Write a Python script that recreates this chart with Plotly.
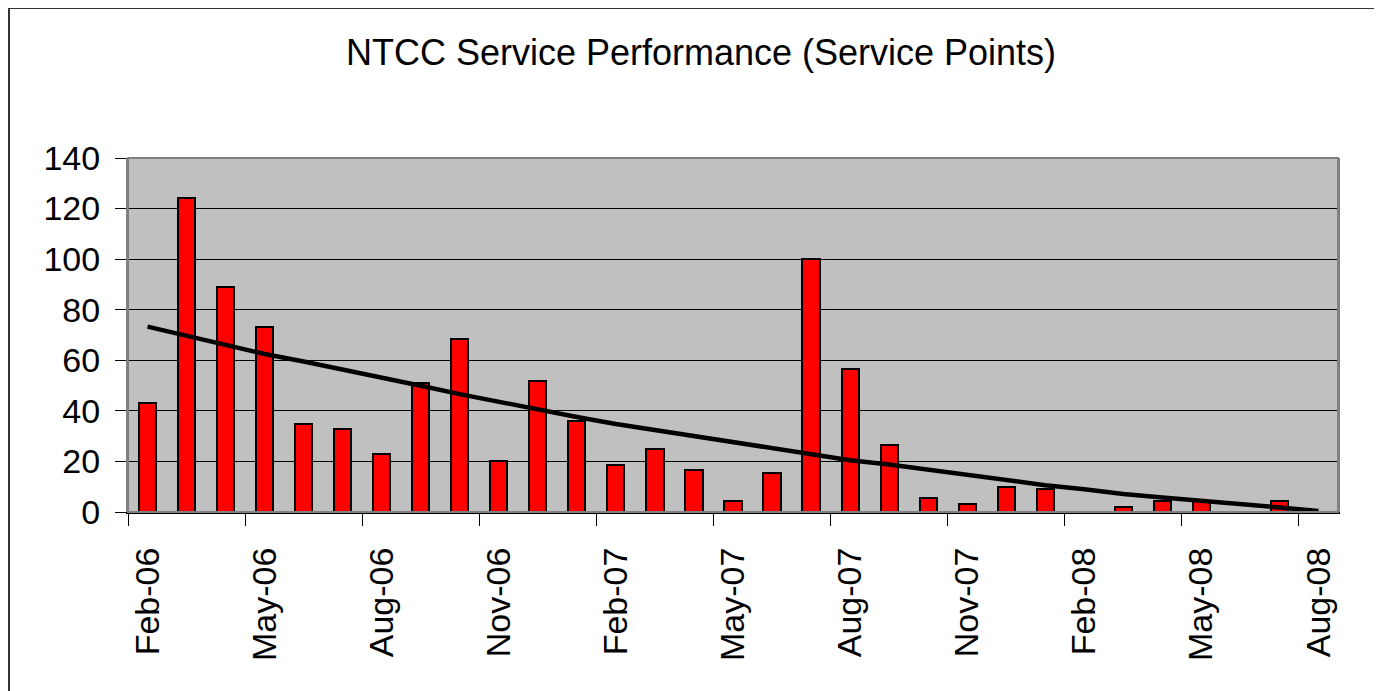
import plotly.graph_objects as go

months = ["Feb-06", "Mar-06", "Apr-06", "May-06", "Jun-06", "Jul-06", "Aug-06", "Sep-06",
          "Oct-06", "Nov-06", "Dec-06", "Jan-07", "Feb-07", "Mar-07", "Apr-07", "May-07",
          "Jun-07", "Jul-07", "Aug-07", "Sep-07", "Oct-07", "Nov-07", "Dec-07", "Jan-08",
          "Feb-08", "Mar-08", "Apr-08", "May-08", "Jun-08", "Jul-08", "Aug-08"]

service_points = [43, 124, 89, 73, 35, 33, 23, 51, 68.5, 20, 52, 36, 18.6, 25, 16.5, 4.4,
                  15.5, 100, 56.5, 26.5, 5.5, 3.3, 10, 9, None, 2, 4.4, 4.4, None, 4.4, None]

trend = [73.3, 69.6, 66, 62.5, 59.5, 56.4, 53, 49.9, 46.6, 43.5, 40.7, 37.6, 34.8, 32.4,
         30, 27.7, 25.2, 22.9, 20.5, 18.8, 16.7, 14.7, 12.4, 10.6, 9, 7.1, 5.7, 4.5, 3.2,
         1.8, 0.4]

tick_labels = ["Feb-06", "May-06", "Aug-06", "Nov-06", "Feb-07", "May-07", "Aug-07",
               "Nov-07", "Feb-08", "May-08", "Aug-08"]

x_idx = list(range(len(months)))
tick_pos = [months.index(t) for t in tick_labels]
slot_edges = [p - 0.5 for p in tick_pos]

FONT = "Liberation Sans, Arial, sans-serif"

# page body adds an 8px offset; figure is sized to fill the rest of the window
W, H = 1374, 683
L, T, R, B = 120, 150, 44, 179
PW, PH = W - L - R, H - T - B

fig = go.Figure()
fig.add_trace(go.Bar(
    x=x_idx, y=service_points, width=0.44,
    marker=dict(color="#FF0000", line=dict(color="black", width=2)),
    hoverinfo="skip", showlegend=False,
))
fig.add_trace(go.Scatter(
    x=x_idx, y=trend, mode="lines",
    line=dict(color="black", width=4.5),
    hoverinfo="skip", showlegend=False,
))

fig.update_layout(
    width=W, height=H,
    margin=dict(l=L, r=R, t=T, b=B, autoexpand=False),
    paper_bgcolor="white", plot_bgcolor="#C0C0C0",
    title=dict(text="NTCC Service Performance (Service Points)",
               x=693 / W, xanchor="center", xref="container",
               y=1 - 44 / H, yanchor="middle", yref="container",
               font=dict(family=FONT, size=36, color="black")),
    font=dict(family=FONT, color="black"),
    bargap=0,
)
fig.update_xaxes(
    range=[-0.5, 30.5], tickmode="array", tickvals=tick_pos, ticktext=tick_labels,
    tickangle=-90, ticks="", ticklabelstandoff=20,
    tickfont=dict(family=FONT, size=34, color="black"),
    showline=True, linecolor="black", linewidth=2,
    showgrid=False, zeroline=False,
    minor=dict(tickmode="array", tickvals=slot_edges, ticks="outside", ticklen=12,
               tickwidth=1, tickcolor="black", showgrid=False),
)
fig.update_yaxes(
    range=[0, 140], tickmode="array", tickvals=list(range(0, 141, 20)),
    ticks="outside", ticklen=11, tickwidth=1, tickcolor="black", ticklabelstandoff=8,
    tickfont=dict(family=FONT, size=34, color="black"),
    showline=True, linecolor="#808080", linewidth=2, mirror=True,
    showgrid=True, gridcolor="black", gridwidth=1, zeroline=False,
)
# plot-area border
fig.add_shape(type="rect", xref="paper", yref="paper", x0=0, x1=1, y0=0, y1=1,
              line=dict(color="#808080", width=2), layer="above")
# chart-area border (left/top visible, right/bottom beyond the window)
fig.add_shape(type="rect", xref="paper", yref="paper",
              x0=(1 - L) / PW, x1=(W + 20 - L) / PW,
              y0=(T + PH - (H + 20)) / PH, y1=(T + PH - 0) / PH,
              line=dict(color="#333333", width=2))

fig.write_html("out.html")
